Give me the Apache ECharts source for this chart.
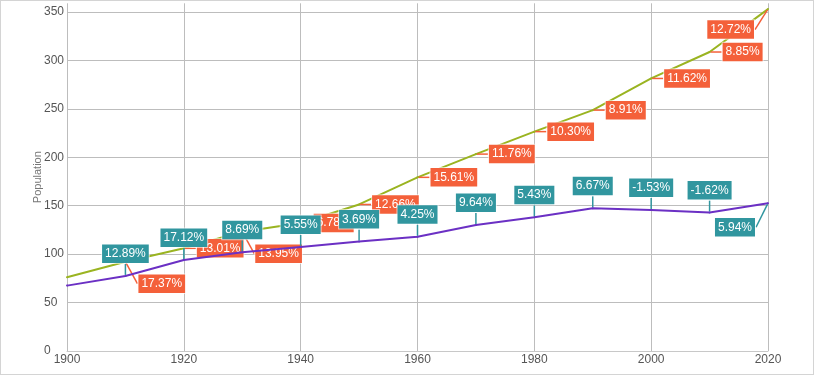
<!DOCTYPE html>
<html><head><meta charset="utf-8">
<script src="https://cdn.jsdelivr.net/npm/echarts@6/dist/echarts.min.js"></script>
<style>
html,body{margin:0;padding:0;background:#fff}
#chart{position:absolute;left:0;top:0;width:814px;height:375px}
#frame{position:absolute;left:0;top:0;width:814px;height:375px;box-sizing:border-box;border:1px solid #d4d4d4;pointer-events:none}
</style></head>
<body><div id="chart"></div><div id="frame"></div>
<script>
// ---- data ----
const years = [1900, 1910, 1920, 1930, 1940, 1950, 1960, 1970, 1980, 1990, 2000, 2010, 2020];
const upperPopulation = [76.2, 92.2, 106.0, 123.2, 132.2, 151.3, 179.3, 203.3, 226.5, 248.7, 281.4, 308.7, 353.0];
const lowerPopulation = [67.5, 77.5, 94.0, 102.0, 107.5, 113.0, 118.0, 130.0, 138.0, 147.5, 145.5, 143.0, 152.5];
const upperGrowth = [null, '17.37%', '13.01%', '13.95%', '6.78%', '12.66%', '15.61%', '11.76%', '10.30%', '8.91%', '11.62%', '8.85%', '12.72%'];
const lowerGrowth = [null, '12.89%', '17.12%', '8.69%', '5.55%', '3.69%', '4.25%', '9.64%', '5.43%', '6.67%', '-1.53%', '-1.62%', '5.94%'];
const xTickLabels = [1900, 1920, 1940, 1960, 1980, 2000, 2020];
const yTickLabels = [0, 50, 100, 150, 200, 250, 300, 350];

// ---- style ----
const GREEN = '#9ab421', PURPLE = '#6b30c4', ORANGE = '#f4603a', TEAL = '#31969f';
const FONT = '"Liberation Sans", Arial, sans-serif';

function buildData(values, growth) {
  return years.map((y, i) => ({
    value: [y, values[i]],
    label: { show: growth[i] != null }
  }));
}

function labelStyle(bg, growth, position) {
  return {
    show: true,
    position: position,
    distance: 12,
    formatter: p => growth[p.dataIndex],
    color: '#fff',
    fontFamily: FONT,
    fontSize: 12,
    lineHeight: 14.5,
    padding: [2, 3],
    backgroundColor: bg,
    borderColor: 'rgba(255,255,255,0.6)',
    borderWidth: 1
  };
}

const chart = echarts.init(document.getElementById('chart'), null, { renderer: 'canvas' });
chart.setOption({
  animation: false,
  grid: { left: 67, right: 46, top: 3.3, bottom: 24, containLabel: false },
  xAxis: {
    type: 'value', min: 1900, max: 2020, interval: 20,
    axisLine: { show: true, lineStyle: { color: '#c8c8c8', width: 1 } },
    axisTick: { show: false },
    axisLabel: {
      color: '#555', fontSize: 12, fontFamily: FONT, margin: 3,
      formatter: v => xTickLabels.includes(v) ? String(v) : ''
    },
    splitLine: { show: true, lineStyle: { color: '#bdbdbd', width: 1 } }
  },
  yAxis: {
    type: 'value', min: 0, max: 359, interval: 50,
    name: 'Population', nameLocation: 'middle', nameGap: 24, nameMoveOverlap: false,
    nameTextStyle: { color: '#777', fontSize: 11, fontFamily: FONT },
    axisLine: { show: false },
    axisTick: { show: false },
    axisLabel: {
      color: '#555', fontSize: 12, fontFamily: FONT, margin: 23, align: 'left',
      formatter: v => yTickLabels.includes(v) ? String(v) : ''
    },
    splitLine: { show: true, showMaxLine: false, lineStyle: { color: '#bdbdbd', width: 1 } }
  },
  series: [
    {
      type: 'line', name: 'upper',
      data: buildData(upperPopulation, upperGrowth),
      symbol: 'circle', symbolSize: 2, showSymbol: true,
      itemStyle: { color: GREEN },
      lineStyle: { color: GREEN, width: 2 },
      emphasis: { disabled: true },
      label: labelStyle(ORANGE, upperGrowth, 'right'),
      labelLine: { show: true, lineStyle: { color: ORANGE, width: 1.5 } },
      labelLayout: function (p) {
        const i = p.dataIndex;
        if (i === 1 || i === 3) return { dy: 22 };
        if (i === 12) return { dx: -p.labelRect.width - 25, dy: 20.5 };
        return {};
      },
      z: 2
    },
    {
      type: 'line', name: 'lower',
      data: buildData(lowerPopulation, lowerGrowth),
      symbol: 'circle', symbolSize: 2, showSymbol: true,
      itemStyle: { color: PURPLE },
      lineStyle: { color: PURPLE, width: 2 },
      emphasis: { disabled: true },
      label: labelStyle(TEAL, lowerGrowth, 'top'),
      labelLine: { show: true, lineStyle: { color: TEAL, width: 1.5 } },
      labelLayout: function (p) {
        const i = p.dataIndex;
        if (i === 12) return { dx: -12 - p.labelRect.width / 2, dy: 25.7 + p.labelRect.height };
        return {};
      },
      z: 3
    }
  ]
});
</script>
</body></html>
